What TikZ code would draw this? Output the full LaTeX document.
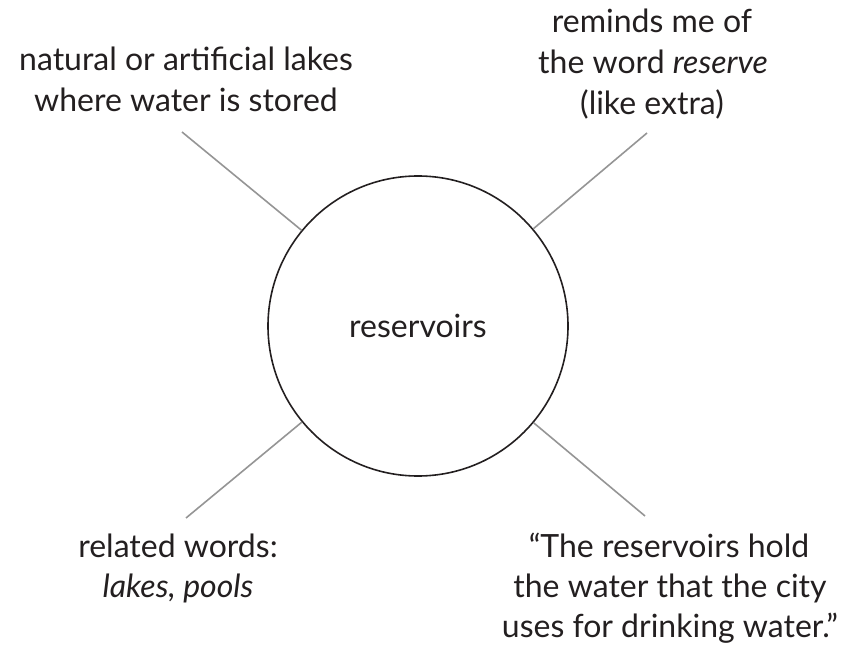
\documentclass[tikz,border=0pt]{standalone}
\usepackage{fontspec}
\setmainfont{Lato}
\definecolor{ink}{HTML}{231F20}
\definecolor{spokegray}{HTML}{959595}
\begin{document}
\begin{tikzpicture}[x=1pt,y=-1pt,
  lbl/.style={anchor=base, inner sep=0pt, text=ink, font=\fontsize{32}{38}\selectfont},
  spoke/.style={draw=spokegray, line width=1.6pt},
  hub/.style={circle, draw=ink, line width=1.6pt, minimum size=300pt, inner sep=0pt, text=ink, font=\fontsize{32}{38}\selectfont}]
\useasboundingbox (0,0) rectangle (843,652);
\node[hub] (c) at (418,326) {reservoirs};
% top-left
\node[lbl] (tl1) at (186,71) {natural or artificial lakes};
\node[lbl] (tl2) at (186,112) {where water is stored};
% top-right
\node[lbl] (tr1) at (652,33) {reminds me of};
\node[lbl] (tr2) at (653,74) {the word \textit{reserve}};
\node[lbl] (tr3) at (652,115) {(like extra)};
% bottom-left
\node[lbl] (bl1) at (178,557) {related words:};
\node[lbl] (bl2) at (178,597) {\textit{lakes, pools}};
% bottom-right
\node[lbl] (br1) at (669,557) {“The reservoirs hold};
\node[lbl] (br2) at (670,597) {the water that the city};
\node[lbl] (br3) at (670,637) {uses for drinking water.”};
% spokes
\coordinate (ptl) at (182,132);
\coordinate (ptr) at (647,133);
\coordinate (pbl) at (186,518);
\coordinate (pbr) at (645,516);
\draw[spoke] (ptl) -- (c);
\draw[spoke] (ptr) -- (c);
\draw[spoke] (pbl) -- (c);
\draw[spoke] (pbr) -- (c);
\end{tikzpicture}
\end{document}
